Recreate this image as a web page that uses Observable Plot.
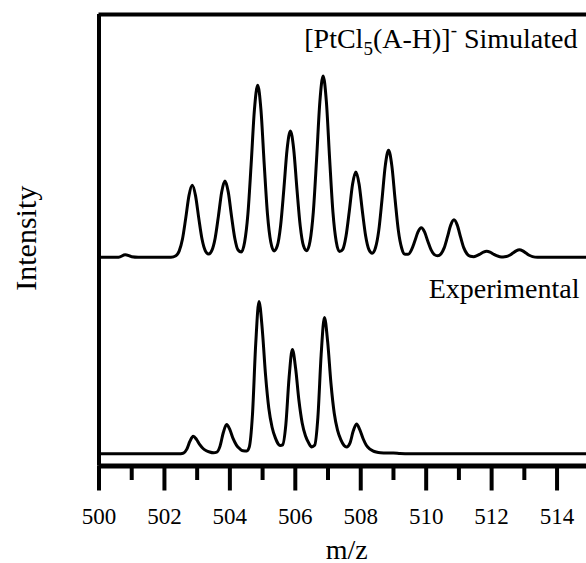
<!DOCTYPE html>
<html>
<head>
<meta charset="utf-8">
<script src="https://cdn.jsdelivr.net/npm/d3@7"></script>
<script src="https://cdn.jsdelivr.net/npm/@observablehq/plot@0.6"></script>
<style>
  html, body { margin: 0; padding: 0; background: #fff; }
  #chart svg { display: block; }
</style>
</head>
<body>
<div id="chart"></div>
<script>
// ---- Data (intensity in arbitrary units) ----
const simMz = [500.0, 500.6, 500.8, 501.0, 501.2, 502.2, 502.35,
  502.45, 502.55, 502.65, 502.75, 502.85, 502.95, 503.05, 503.15, 503.25, 503.35,
  503.45, 503.55, 503.65, 503.75, 503.85, 503.95, 504.05, 504.15, 504.25, 504.35,
  504.45, 504.55, 504.65, 504.75, 504.85, 504.95, 505.05, 505.15, 505.25, 505.35,
  505.45, 505.55, 505.65, 505.75, 505.85, 505.95, 506.05, 506.15, 506.25, 506.35,
  506.45, 506.55, 506.65, 506.75, 506.85, 506.95, 507.05, 507.15, 507.25, 507.35,
  507.45, 507.55, 507.65, 507.75, 507.85, 507.95, 508.05, 508.15, 508.25, 508.35,
  508.45, 508.55, 508.65, 508.75, 508.85, 508.95, 509.05, 509.15, 509.25, 509.35,
  509.45, 509.55, 509.65, 509.75, 509.85, 509.95, 510.05, 510.15, 510.25, 510.35,
  510.45, 510.55, 510.65, 510.75, 510.85, 510.95, 511.05, 511.15, 511.25, 511.35,
  511.45, 511.55, 511.65, 511.75, 511.85, 511.95, 512.05, 512.15, 512.25, 512.35,
  512.45, 512.55, 512.65, 512.75, 512.85, 512.95, 513.05, 513.15, 513.25, 513.4, 514.9];
const simIntensity = [0, 0, 2.5, 0.5, 0, 0, 1.5,
  6.1, 17.9, 38.8, 61.6, 71.9, 61.6, 38.8, 17.9, 6.4, 3.1,
  6.8, 19.0, 41.1, 65.3, 76.2, 65.3, 41.1, 19.0, 7.2, 5.2,
  14.9, 42.8, 92.8, 147.3, 171.9, 147.3, 92.8, 42.8, 15.1, 6.3,
  11.4, 31.4, 68.1, 108.2, 126.2, 108.2, 68.1, 31.4, 11.4, 6.5,
  15.9, 45.1, 97.8, 155.3, 181.2, 155.3, 97.8, 45.1, 15.7, 5.6,
  7.9, 21.2, 46.0, 73.0, 85.2, 73.0, 46.0, 21.2, 7.6, 4.0,
  9.4, 26.6, 57.7, 91.6, 106.9, 91.6, 57.7, 26.6, 9.2, 2.9,
  2.9, 7.3, 15.9, 25.3, 29.5, 25.3, 15.9, 7.3, 2.6, 1.4,
  3.3, 9.3, 20.3, 32.1, 37.5, 32.1, 20.3, 9.3, 3.2, 0.9,
  0.5, 1.5, 3.2, 5.1, 5.9, 5.1, 3.2, 1.5, 0.5, 0.3,
  0.6, 1.9, 4.1, 6.4, 7.5, 6.4, 4.1, 1.9, 0.6, 0, 0];

const expMz = [500.0, 502.5,
  502.58, 502.68, 502.78, 502.88, 502.98, 503.08, 503.18, 503.28, 503.38, 503.5,
  503.6, 503.7, 503.8, 503.9, 504.0, 504.1, 504.2, 504.3, 504.4, 504.52,
  504.59, 504.69, 504.79, 504.89, 504.99, 505.09, 505.19, 505.29, 505.39, 505.49, 505.55,
  505.61, 505.71, 505.81, 505.91, 506.01, 506.11, 506.21, 506.31, 506.41, 506.5, 506.59,
  506.69, 506.79, 506.89, 506.99, 507.09, 507.19, 507.29, 507.39, 507.49, 507.57,
  507.67, 507.77, 507.87, 507.97, 508.07, 508.17, 508.27, 508.37, 508.47,
  508.6, 508.8, 509.0, 509.2, 509.5, 514.9];
const expIntensity = [0, 0,
  0.6, 4.4, 12.6, 17.5, 14.4, 9.1, 5.3, 3.1, 1.8, 1.0,
  1.6, 7.7, 21.3, 29.3, 24.1, 15.1, 8.7, 5.1, 3.1, 2.9,
  6.4, 38.8, 109.9, 152.2, 124.5, 78.9, 45.5, 26.6, 15.9, 9.4, 8.3,
  8.9, 29.0, 76.3, 104.3, 85.3, 53.5, 30.8, 18.0, 10.8, 6.9, 8.5,
  36.5, 99.1, 136.3, 111.6, 70.3, 40.5, 23.6, 14.2, 8.4, 6.8,
  10.6, 22.7, 29.9, 24.2, 15.3, 8.6, 5.0, 3.0, 1.8,
  1.0, 0.8, 0.8, 0.3, 0, 0];

const majorTicks = [500, 502, 504, 506, 508, 510, 512, 514];
const minorTicks = [501, 503, 505, 507, 509, 511, 513];
const xLabel = "m/z";
const yLabel = "Intensity";
const simLabel = "[PtCl5(A-H)]- Simulated";
const expLabel = "Experimental";

// ---- Layout constants ----
const SIM_OFFSET = 196.6;          // vertical stacking offset of the simulated trace
const X_DOMAIN = [500, 514.9];
const Y_DOMAIN = [-12.2, 439.3];
const FONT = "'Liberation Serif', 'Times New Roman', serif";

const simData = simMz.map((mz, i) => ({mz, intensity: simIntensity[i] + SIM_OFFSET}));
const expData = expMz.map((mz, i) => ({mz, intensity: expIntensity[i]}));

const chart = Plot.plot({
  width: 586,
  height: 563,
  marginLeft: 98.5,
  marginRight: 0,
  marginTop: 14,
  marginBottom: 97.5,
  style: {fontFamily: FONT, background: "white", color: "black"},
  x: {domain: X_DOMAIN, label: null, axis: null},
  y: {domain: Y_DOMAIN, label: null, axis: null},
  marks: [
    Plot.line(simData, {x: "mz", y: "intensity", curve: "monotone-x", stroke: "black", strokeWidth: 3, strokeLinejoin: "round"}),
    Plot.line(expData, {x: "mz", y: "intensity", curve: "monotone-x", stroke: "black", strokeWidth: 3, strokeLinejoin: "round"}),
    Plot.ruleX([X_DOMAIN[0]], {stroke: "black", strokeWidth: 4}),
    Plot.ruleY([Y_DOMAIN[1]], {stroke: "black", strokeWidth: 4}),
    Plot.ruleY([Y_DOMAIN[0]], {stroke: "black", strokeWidth: 5}),
    Plot.axisX(majorTicks, {tickSize: 25, strokeWidth: 4, tickFormat: () => "", label: null}),
    Plot.axisX(minorTicks, {tickSize: 14.5, strokeWidth: 4, tickFormat: () => "", label: null}),
    Plot.text(majorTicks, {x: d => d, text: d => String(d), frameAnchor: "bottom", textAnchor: "middle", lineAnchor: "bottom", dy: 57.5, fontSize: 23, fill: "black"}),
    Plot.text([xLabel], {text: d => d, frameAnchor: "bottom", textAnchor: "middle", lineAnchor: "bottom", dx: 4, dy: 92.5, fontSize: 28, fill: "black"}),
    Plot.text([yLabel], {text: d => d, frameAnchor: "left", textAnchor: "middle", rotate: -90, lineAnchor: "bottom", dx: -63.5, dy: -2, fontSize: 30, fill: "black"}),
    Plot.text([simLabel], {text: d => d, frameAnchor: "top-right", textAnchor: "end", lineAnchor: "bottom", dx: -9, dy: 33, fontSize: 28, fill: "black"}),
    Plot.text([expLabel], {text: d => d, frameAnchor: "top-right", textAnchor: "end", lineAnchor: "bottom", dx: -7, dy: 283, fontSize: 28, fill: "black"})
  ]
});

document.getElementById("chart").appendChild(chart);

// Subscript "5" and superscript "-" in the simulated label
d3.select(chart).selectAll("text")
  .filter(function() { return this.textContent === simLabel; })
  .each(function() {
    const t = d3.select(this);
    t.text(null);
    t.append("tspan").text("[PtCl");
    t.append("tspan").attr("dy", 7).attr("font-size", 19).text("5");
    t.append("tspan").attr("dy", -7).text("(A-H)]");
    t.append("tspan").attr("dy", -12).attr("font-size", 19).text("-");
    t.append("tspan").attr("dy", 12).text(" Simulated");
  });
</script>
</body>
</html>
